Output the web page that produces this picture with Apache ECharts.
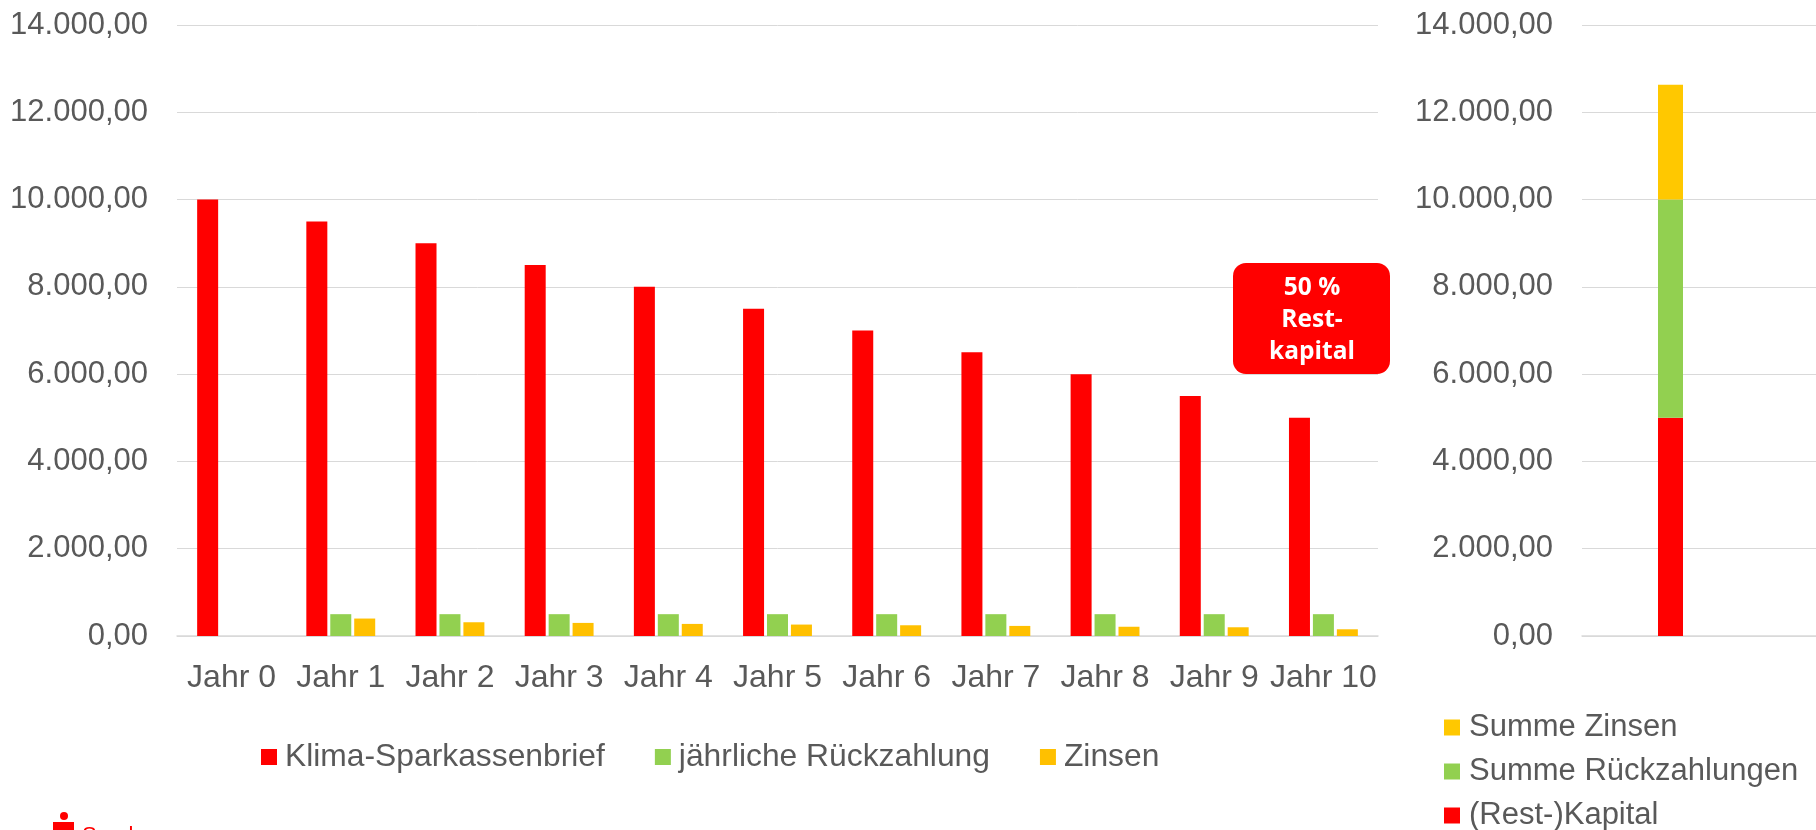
<!DOCTYPE html>
<html>
<head>
<meta charset="utf-8">
<script src="https://cdn.jsdelivr.net/npm/echarts@6/dist/echarts.min.js"></script>
<style>
  html, body { margin: 0; padding: 0; background: #fff; }
  #chart { width: 1816px; height: 830px; }
</style>
</head>
<body>
<div id="chart"></div>
<script>
// categories / values
var years = ['Jahr 0', 'Jahr 1', 'Jahr 2', 'Jahr 3', 'Jahr 4', 'Jahr 5', 'Jahr 6', 'Jahr 7', 'Jahr 8', 'Jahr 9', 'Jahr 10'];
var kapital = [10000, 9500, 9000, 8500, 8000, 7500, 7000, 6500, 6000, 5500, 5000];
var rueckzahlung = [0, 500, 500, 500, 500, 500, 500, 500, 500, 500, 500];
var zinsen = [0, 400, 315, 300, 277, 262, 246, 231, 212, 200, 154];

var summeKategorie = [''];
var restKapital = [5000];
var summeRueckzahlungen = [5000];
var summeZinsen = [2630];

var yTicks = [0, 2000, 4000, 6000, 8000, 10000, 12000, 14000];

var red = '#FF0000', green = '#92D050', yellow = '#FFC000', yellow2 = '#FFC800';
var textColor = '#595959';
var font = '"Liberation Sans", Arial, sans-serif';

function fmt(v) {
  var s = v.toFixed(2).split('.');
  return s[0].replace(/\B(?=(\d{3})+(?!\d))/g, '.') + ',' + s[1];
}

var chart = echarts.init(document.getElementById('chart'));

var yAxisBase = {
  type: 'value',
  min: yTicks[0],
  max: yTicks[yTicks.length - 1],
  interval: 2000,
  axisLine: { show: false },
  axisTick: { show: false },
  splitLine: { lineStyle: { color: '#d9d9d9', width: 1 } },
  axisLabel: { color: textColor, fontSize: 31, fontFamily: font, margin: 29, formatter: fmt }
};

var option = {
  backgroundColor: '#fff',
  animation: false,
  grid: [
    { left: 177, right: 438, top: 25, bottom: 194 },
    { left: 1582, right: 0, top: 25, bottom: 194 }
  ],
  xAxis: [{
    type: 'category',
    gridIndex: 0,
    data: years,
    axisLine: { lineStyle: { color: '#d9d9d9', width: 1.5 } },
    axisTick: { show: false },
    axisLabel: { color: textColor, fontSize: 32, fontFamily: font, margin: 26, interval: 0, hideOverlap: false }
  }, {
    type: 'category',
    gridIndex: 1,
    data: summeKategorie,
    axisLine: { lineStyle: { color: '#d9d9d9', width: 1.5 } },
    axisTick: { show: false },
    axisLabel: { show: false }
  }],
  yAxis: [
    Object.assign({ gridIndex: 0 }, yAxisBase),
    Object.assign({ gridIndex: 1 }, yAxisBase)
  ],
  legend: [{
    left: 256,
    top: 736,
    itemWidth: 16,
    itemHeight: 16,
    itemGap: 50,
    icon: 'rect',
    data: ['Klima-Sparkassenbrief', 'jährliche Rückzahlung', 'Zinsen'],
    textStyle: { color: textColor, fontSize: 31.8, fontFamily: font, padding: [0, 0, 0, 3] }
  }, {
    left: 1444,
    top: 712,
    height: 200,
    padding: 0,
    orient: 'vertical',
    itemWidth: 16,
    itemHeight: 16,
    itemGap: 13,
    icon: 'rect',
    data: ['Summe Zinsen', 'Summe Rückzahlungen', '(Rest-)Kapital'],
    textStyle: { color: textColor, fontSize: 31, fontFamily: font, lineHeight: 31, padding: [0, 0, 0, 4] }
  }],
  series: [{
    name: 'Klima-Sparkassenbrief',
    type: 'bar',
    xAxisIndex: 0, yAxisIndex: 0,
    barWidth: 21,
    barGap: '14%',
    data: kapital,
    itemStyle: { color: red }
  }, {
    name: 'jährliche Rückzahlung',
    type: 'bar',
    xAxisIndex: 0, yAxisIndex: 0,
    barWidth: 21,
    barGap: '14%',
    data: rueckzahlung,
    itemStyle: { color: green }
  }, {
    name: 'Zinsen',
    type: 'bar',
    xAxisIndex: 0, yAxisIndex: 0,
    barWidth: 21,
    barGap: '14%',
    data: zinsen,
    itemStyle: { color: yellow }
  }, {
    name: '(Rest-)Kapital',
    type: 'bar',
    stack: 'summe',
    xAxisIndex: 1, yAxisIndex: 1,
    barWidth: 25,
    barGap: '128%',
    data: restKapital,
    itemStyle: { color: red }
  }, {
    name: 'Summe Rückzahlungen',
    type: 'bar',
    stack: 'summe',
    xAxisIndex: 1, yAxisIndex: 1,
    barWidth: 25,
    barGap: '128%',
    data: summeRueckzahlungen,
    itemStyle: { color: green }
  }, {
    name: 'Summe Zinsen',
    type: 'bar',
    stack: 'summe',
    xAxisIndex: 1, yAxisIndex: 1,
    barWidth: 25,
    barGap: '128%',
    data: summeZinsen,
    itemStyle: { color: yellow2 }
  }, {
    // empty slot so the stacked bar sits left of the category centre
    name: 'leer',
    type: 'bar',
    stack: 'leer',
    xAxisIndex: 1, yAxisIndex: 1,
    barWidth: 25,
    barGap: '128%',
    data: ['-'],
    silent: true
  }],
  graphic: [{
    type: 'rect',
    z: 100,
    shape: { x: 1233, y: 263, width: 157, height: 111, r: 13 },
    style: { fill: red }
  }, {
    type: 'text',
    z: 101,
    x: 1312,
    y: 320,
    style: {
      text: '50 %\nRest-\nkapital',
      fill: '#fff',
      font: 'bold 24.5px "Open Sans", "Noto Sans", sans-serif',
      align: 'center',
      verticalAlign: 'middle',
      lineHeight: 32
    }
  }, {
    // Sparkasse logo, cut off at the bottom edge
    type: 'circle',
    shape: { cx: 64, cy: 816, r: 4 },
    style: { fill: red }
  }, {
    type: 'rect',
    shape: { x: 53, y: 822, width: 21, height: 10 },
    style: { fill: red }
  }, {
    type: 'text',
    x: 82,
    y: 825,
    style: { text: 'Sparkasse', fill: red, font: '22px "Liberation Sans", Arial, sans-serif', verticalAlign: 'top' }
  }]
};

chart.setOption(option);
</script>
</body>
</html>
